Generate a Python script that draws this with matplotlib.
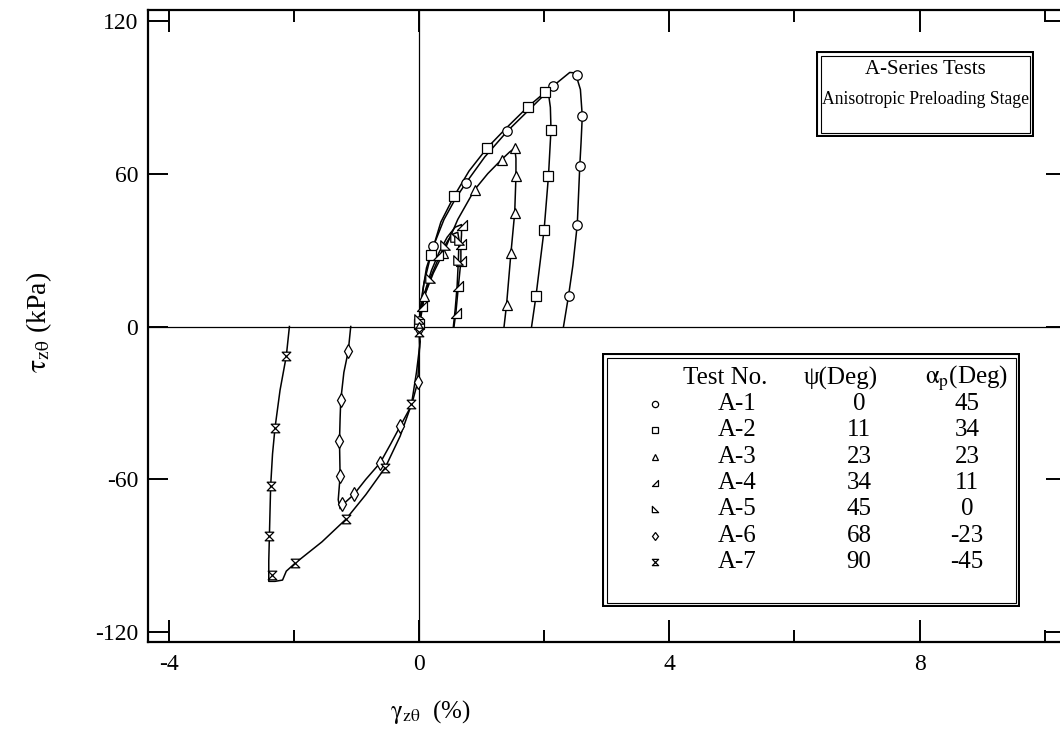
import matplotlib
matplotlib.use("Agg")
import matplotlib.pyplot as plt
from matplotlib.path import Path
from matplotlib.patches import Rectangle

plt.rcParams['font.family'] = ['Liberation Serif', 'DejaVu Serif']
plt.rcParams['mathtext.fontset'] = 'stix'

# ---------------- data ----------------
a1_x = [0, 0.02, 0.06, 0.12, 0.23, 0.40, 0.58, 0.75, 1.05, 1.41, 1.80, 2.15, 2.30, 2.41, 2.50, 2.58, 2.61, 2.59, 2.57, 2.53, 2.46, 2.39, 2.31]
a1_y = [0, 6, 14, 23, 31.5, 42, 50, 56.3, 66.5, 76.6, 86, 94.5, 97.5, 99.7, 99.5, 93, 82.5, 72, 63, 40, 24, 12, 0]
a1_mx = [0.0, 0.23, 0.75, 1.41, 2.15, 2.53, 2.61, 2.57, 2.53, 2.39]
a1_my = [2, 31.5, 56.3, 76.6, 94.5, 98.8, 82.5, 63, 40, 12]

a2_x = [0, 0.03, 0.08, 0.19, 0.35, 0.56, 0.80, 1.09, 1.40, 1.74, 2.02, 2.06, 2.10, 2.11, 2.07, 2.00, 1.93, 1.87, 1.80]
a2_y = [0, 8, 17, 28, 41, 51.1, 61, 70.1, 78, 86.2, 92, 93.2, 86, 77.3, 59.2, 38, 24, 11.9, 0]
a2_mx = [0.0, 0.19, 0.56, 1.09, 1.74, 2.02, 2.11, 2.07, 2.00, 1.87]
a2_my = [1, 28, 51.1, 70.1, 86.2, 92, 77.3, 59.2, 38, 11.9]

a3_x = [0, 0.04, 0.085, 0.23, 0.39, 0.62, 0.89, 1.10, 1.32, 1.45, 1.53, 1.55, 1.55, 1.53, 1.47, 1.40, 1.36]
a3_y = [0, 5, 11.9, 21, 28.9, 42, 53.7, 60, 65.5, 68.5, 70, 66, 59, 44.6, 28.9, 8.6, 0]
a3_mx = [0.085, 0.39, 0.89, 1.32, 1.53, 1.55, 1.53, 1.47, 1.40]
a3_my = [11.9, 28.9, 53.7, 65.5, 70.1, 59, 44.6, 28.9, 8.6]

a4_x = [0, 0.03, 0.10, 0.20, 0.32, 0.45, 0.58, 0.68, 0.68, 0.67, 0.67, 0.63, 0.59, 0.56]
a4_y = [0, 6, 14, 22, 29, 35, 39, 40, 36, 32.2, 25.6, 15.8, 5.4, 0]
a4_mx = [0.05, 0.30, 0.68, 0.67, 0.67, 0.63, 0.59]
a4_my = [8, 28, 40, 32.2, 25.6, 15.8, 5.4]

a5_x = [0, 0.03, 0.09, 0.18, 0.30, 0.42, 0.52, 0.62, 0.64, 0.63, 0.61, 0.58, 0.55]
a5_y = [0, 5, 12, 19, 26, 32, 36, 37, 34, 26, 16, 7, 0]
a5_mx = [0.0, 0.18, 0.42, 0.58, 0.64, 0.63]
a5_my = [3, 19, 32, 35, 34, 26]

a6_x = [0, 0.01, -0.02, -0.12, -0.30, -0.45, -0.62, -0.85, -1.04, -1.20, -1.26, -1.29, -1.26, -1.27, -1.26, -1.25, -1.20, -1.13, -1.09]
a6_y = [0, -8, -21.8, -31, -39.1, -46, -53.5, -60, -65.9, -69.5, -71.5, -68, -58.7, -45, -36, -29, -18, -9.7, 0]
a6_mx = [0.0, -0.02, -0.30, -0.62, -1.04, -1.23, -1.26, -1.27, -1.25, -1.13]
a6_my = [-1, -21.8, -39.1, -53.5, -65.9, -69.8, -58.7, -45, -29, -9.7]

a7_x = [0, 0.02, -0.04, -0.12, -0.30, -0.54, -0.85, -1.17, -1.55, -1.98, -2.12, -2.18, -2.30, -2.40, -2.40, -2.39, -2.37, -2.34, -2.30, -2.22, -2.12, -2.07]
a7_y = [0, -6, -18, -30.6, -43, -55.4, -66, -75.7, -84.5, -92.9, -96, -99.5, -100, -100, -92, -82.2, -62.6, -50, -39.7, -25, -11.6, 0]
a7_mx = [0.0, -0.12, -0.54, -1.17, -1.98, -2.35, -2.39, -2.37, -2.30, -2.12]
a7_my = [-2, -30.6, -55.4, -75.7, -92.9, -97.6, -82.2, -62.6, -39.7, -11.6]

tests = ['A-1', 'A-2', 'A-3', 'A-4', 'A-5', 'A-6', 'A-7']
psi_deg = ['0', '11', '23', '34', '45', '68', '90']
alpha_p_deg = ['45', '34', '23', '11', '0', '-23', '-45']

x_major = [-4, 0, 4, 8]
x_minor = [-2, 2, 6, 10]
y_major = [-120, -60, 0, 60, 120]

# ---------------- markers ----------------
tri_a4 = Path([(-1, -1), (1, -1), (1, 1), (-1, -1)], closed=True)
tri_a5 = Path([(-1, -1), (1, -1), (-1, 1), (-1, -1)], closed=True)
hourglass = Path([(-1, 1), (1, 1), (-1, -1), (1, -1), (-1, 1)], closed=True)
markers = ['o', 's', '^', tri_a4, tri_a5, 'd', hourglass]
msizes = [6.8, 6.8, 6.8, 6.8, 6.8, 6.8, 6.2]

curves = [(a1_x, a1_y, a1_mx, a1_my), (a2_x, a2_y, a2_mx, a2_my),
          (a3_x, a3_y, a3_mx, a3_my), (a4_x, a4_y, a4_mx, a4_my),
          (a5_x, a5_y, a5_mx, a5_my), (a6_x, a6_y, a6_mx, a6_my),
          (a7_x, a7_y, a7_mx, a7_my)]

W, H = 1060, 733
fig = plt.figure(figsize=(W / 100, H / 100), dpi=100)
ax = fig.add_axes([148 / W, (H - 642) / H, (1066 - 148) / W, 632 / H])

ax.axhline(0, color='black', lw=0.9, zorder=1)
ax.axvline(0, color='black', lw=0.9, zorder=1)

for (cx, cy, mx, my), mk, ms in zip(curves, markers, msizes):
    ax.plot(cx, cy, color='black', lw=1.1, zorder=2)
    ax.plot(mx, my, linestyle='none', marker=mk, ms=ms, mfc='white',
            mec='black', mew=0.9, zorder=3)

ax.set_xlim(-4.33, 10.34)
ax.set_ylim(-123.8, 124.2)
ax.set_xticks(x_major)
ax.set_xticks(x_minor, minor=True)
ax.set_yticks(y_major)
ax.set_xticklabels([str(v) for v in x_major])
ax.set_yticklabels([str(v) for v in y_major])
ax.tick_params(which='both', direction='in', top=True, right=True, width=1.4,
               labelsize=17, color='black')
ax.tick_params(axis='x', which='major', length=15.5, pad=9)
ax.tick_params(axis='x', which='minor', length=8.5)
ax.tick_params(axis='y', which='major', length=14.5, pad=7)
for s in ax.spines.values():
    s.set_linewidth(1.6)

ax.set_xlabel(r'$\mathrm{\gamma_{z\theta}}$  (%)', fontsize=18)
ax.xaxis.set_label_coords((430 - 148) / 918, -(698 - 642) / 632)
ax.set_ylabel(r'$\mathrm{\tau_{z\theta}}$ (kPa)', fontsize=20)
ax.yaxis.set_label_coords((54 - 148) / 918, (642 - 322) / 632)


def pixel_axes(x0, y0, x1, y1):
    a = fig.add_axes([x0 / W, (H - y1) / H, (x1 - x0) / W, (y1 - y0) / H])
    a.set_xlim(x0, x1)
    a.set_ylim(y1, y0)
    a.axis('off')
    return a


def double_box(a, x0, y0, x1, y1, gap=3.5):
    a.add_patch(Rectangle((x0 + 1, y0 + 1), x1 - x0 - 2, y1 - y0 - 2, fill=True,
                          fc='white', ec='black', lw=1.5))
    a.add_patch(Rectangle((x0 + 1 + gap, y0 + 1 + gap), x1 - x0 - 2 - 2 * gap,
                          y1 - y0 - 2 - 2 * gap, fill=False, ec='black', lw=0.8))


# title box
tb = pixel_axes(816, 51, 1034, 137)
double_box(tb, 816, 51, 1034, 137)
tb.text(925, 70, 'A-Series Tests', ha='center', va='center', fontsize=15)
tb.text(925, 99, 'Anisotropic Preloading Stage', ha='center', va='center', fontsize=12.7)

# legend table
lb = pixel_axes(602, 353, 1020, 607)
double_box(lb, 602, 353, 1020, 607)
fs = 18
lb.text(725, 378, 'Test No.', ha='center', va='center', fontsize=fs)
lb.text(841, 378, 'ψ(Deg)', ha='center', va='center', fontsize=fs)
lb.text(967, 378, r'$\mathrm{\alpha_p}$(Deg)', ha='center', va='center', fontsize=fs)
for i, (t, p, a) in enumerate(zip(tests, psi_deg, alpha_p_deg)):
    yy = 404 + 26.3 * i
    lb.plot([655], [yy], linestyle='none', marker=markers[i], ms=4.5, mfc='white',
            mec='black', mew=0.9)
    lb.text(737, yy, t, ha='center', va='center', fontsize=fs)
    lb.text(859, yy, p, ha='center', va='center', fontsize=fs)
    lb.text(967, yy, a, ha='center', va='center', fontsize=fs)

fig.savefig('out.png', dpi=100)
